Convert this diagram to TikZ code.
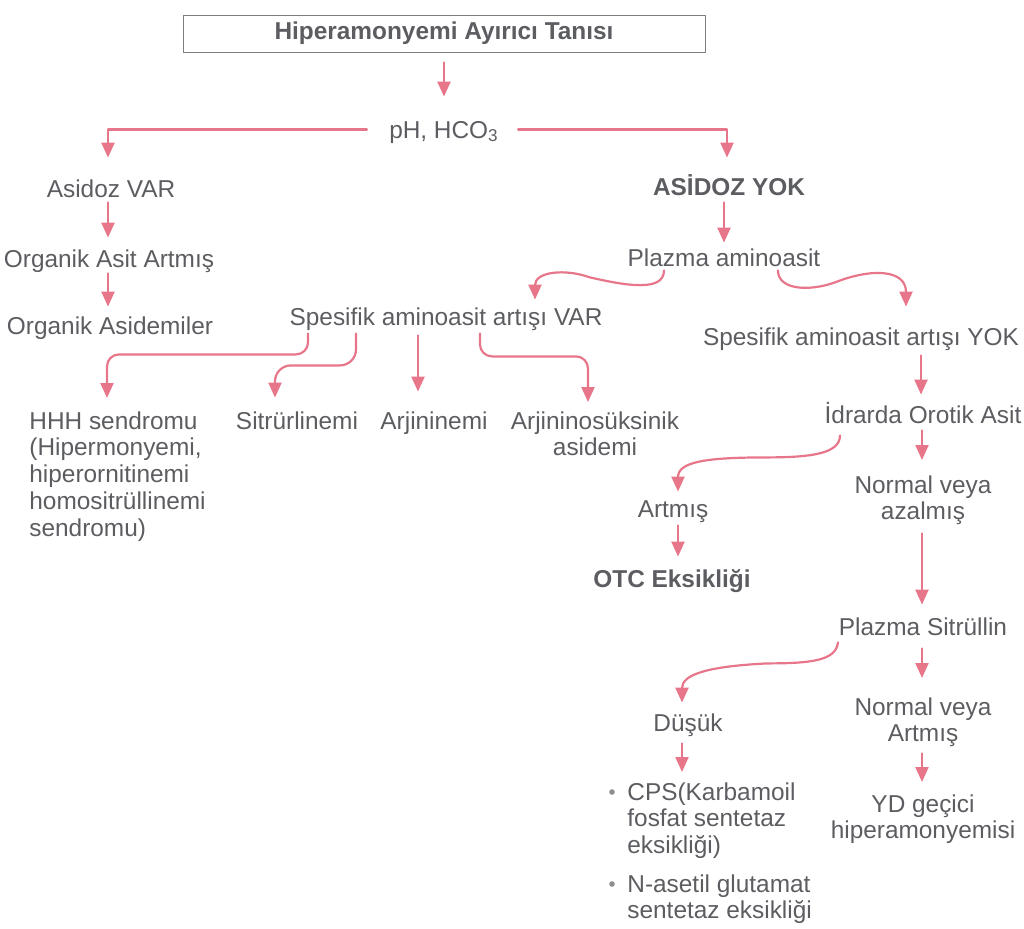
\documentclass[tikz,border=0pt]{standalone}
\usepackage{fontspec}
\setmainfont{Liberation Sans}
\usetikzlibrary{arrows.meta,calc}
\definecolor{yazigri}{HTML}{5C5D61}
\definecolor{okpembe}{HTML}{E8768A}
\begin{document}
\begin{tikzpicture}[x=0.5pt, y=-0.5pt, line join=round, line cap=round, >={Triangle[width=6.5pt,length=7.5pt]}, font=\fontsize{12.2}{13.4}\selectfont]
\tikzset{metin/.style={text=yazigri, inner sep=0pt, text height=9pt, text depth=2.5pt, anchor=base},
	blok/.style={text=yazigri, inner sep=0pt, align=center, anchor=north},
	kalin/.style={font=\fontsize{12.2}{13.4}\selectfont\bfseries},
	ok/.style={->, draw=okpembe, line width=1.1pt}}
\useasboundingbox (0,0) rectangle (1024,928);
% kutular
\node[draw=yazigri!80, line width=0.5pt, minimum width=261pt, minimum height=18.5pt, text=yazigri, kalin] (tani) at (444,33.5) {Hiperamonyemi Ayırıcı Tanısı};
\node[metin] (ph) at (444,138) {pH, HCO\textsubscript{3}};
\node[metin] (asidozvar) at (111,197) {Asidoz VAR};
\node[metin] (orgart) at (109,267) {Organik Asit Artmış};
\node[metin] (orgasidemi) at (110,334) {Organik Asidemiler};
\node[metin,kalin] (asidozyok) at (729,195) {ASİDOZ YOK};
\node[metin] (plazmaaa) at (724,266) {Plazma aminoasit};
\node[metin] (spesvar) at (446,325) {Spesifik aminoasit artışı VAR};
\node[metin] (spesyok) at (861,345) {Spesifik aminoasit artışı YOK};
\node[blok, anchor=north west, align=left] (hhh) at (29,411) {HHH sendromu\\(Hipermonyemi,\\hiperornitinemi\\homositrüllinemi\\sendromu)};
\node[metin] (sitr) at (297,429) {Sitrürlinemi};
\node[metin] (arjinin) at (434,429) {Arjininemi};
\node[blok] (arjsuk) at (595,411) {Arjininosüksinik\\asidemi};
\node[metin] (idrar) at (923,423) {İdrarda Orotik Asit};
\node[blok] (normazal) at (923,475) {Normal veya\\azalmış};
\node[metin] (artmis) at (673,517) {Artmış};
\node[metin,kalin] (otc) at (672,587) {OTC Eksikliği};
\node[metin] (sitrullin) at (923,635) {Plazma Sitrüllin};
\node[blok] (normart) at (923,697) {Normal veya\\Artmış};
\node[blok] (ydgecici) at (923,794) {YD geçici\\hiperamonyemisi};
\node[metin] (dusuk) at (688,731) {Düşük};
\node[blok, anchor=north west, align=left] (cps) at (627,782) {CPS(Karbamoil\\fosfat sentetaz\\eksikliği)};
\node[blok, anchor=north west, align=left] (nag) at (627,874) {N-asetil glutamat\\sentetaz eksikliği};
\fill[yazigri!70] ($(cps.north west)+(-15,10)$) circle (1.4pt);
\fill[yazigri!70] ($(nag.north west)+(-15,10)$) circle (1.4pt);
% oklar
\draw[ok] ($(tani.south)+(0,10)$) -- ($(ph.north)+(0,-23)$);
\draw[ok] ($(ph.west)+(-22,-2)$) -| ($(asidozvar.north)+(-3,-21)$);
\draw[ok] ($(ph.east)+(19,-2)$) -| ($(asidozyok.north)+(-2,-19)$);
\draw[ok] ($(asidozvar.south)+(-3,0)$) -- ($(orgart.north)+(-1,-11)$);
\draw[ok] ($(orgart.south)+(-1,1)$) -- ($(orgasidemi.north)+(-2,-9)$);
\draw[ok] ($(asidozyok.south)+(-5,2)$) -- ($(plazmaaa.north)+(0,-5)$);
\draw[ok] ($(plazmaaa.south)+(-60,-1)$) .. controls +(0,22) and +(35,8) .. ($(plazmaaa.south)+(-134,6)$) .. controls +(-25,-9) and +(0,-28) .. ($(spesvar.north)+(89,-7)$);
\draw[ok] ($(plazmaaa.south)+(54,-1)$) .. controls +(0,20) and +(-25,9) .. ($(plazmaaa.south)+(111,11)$) .. controls +(35,-14) and +(0,-38) .. ($(spesyok.north)+(45,-20)$);
\draw[ok, rounded corners=6pt] ($(spesvar.south)+(-138,3)$) -- ++(0,21) -| ($(hhh.north west)+(78,-13)$);
\draw[ok, rounded corners=8pt] ($(spesvar.south)+(-90,3)$) -- ++(0,32) -| ($(sitr.north)+(-22,-13)$);
\draw[ok] ($(spesvar.south)+(-28,5)$) -- ($(arjinin.north)+(-16,-19)$);
\draw[ok, rounded corners=6pt] ($(spesvar.south)+(34,3)$) -- ++(0,23) -| ($(arjsuk.north)+(-7,-9)$);
\draw[ok] ($(spesyok.south)+(60,5)$) -- ($(idrar.north)+(-2,-10)$);
\draw[ok] ($(idrar.south)+(-83,7)$) .. controls +(0,18) and +(45,0) .. ($(idrar.south)+(-156,29)$) .. controls +(-60,0) and +(0,-30) .. ($(artmis.north)+(5,-7)$);
\draw[ok] ($(artmis.south)+(5,3)$) -- ($(otc.north)+(6,-12)$);
\draw[ok] ($(idrar.south)+(-1,2)$) -- ($(normazal.north)+(-1,-15)$);
\draw[ok] ($(normazal.south)+(-1,8)$) -- ($(sitrullin.north)+(-1,-12)$);
\draw[ok] ($(sitrullin.south)+(-1,8)$) -- ($(normart.north)+(-1,-19)$);
\draw[ok] ($(normart.south)+(-1,6)$) -- ($(ydgecici.north)+(-1,-12)$);
\draw[ok] ($(sitrullin.south)+(-85,2)$) .. controls +(-2,18) and +(45,0) .. ($(sitrullin.south)+(-156,23)$) .. controls +(-60,3) and +(0,-28) .. ($(dusuk.north)+(-6,-10)$);
\draw[ok] ($(dusuk.south)+(-6,7)$) -- ($(cps.north west)+(55,-10)$);
\end{tikzpicture}
\end{document}
